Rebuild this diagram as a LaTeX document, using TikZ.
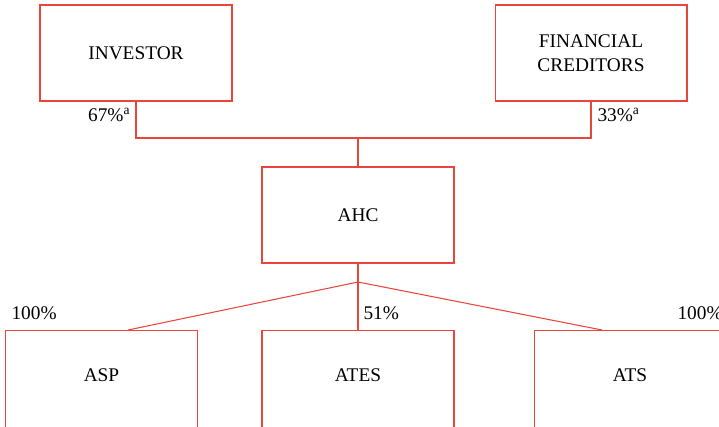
\documentclass[tikz,border=0pt]{standalone}
\usepackage{fontspec}
\setmainfont{Liberation Serif}
\definecolor{orgred}{HTML}{E8453C}

\begin{document}
\begin{tikzpicture}[x=0.02cm, y=-0.02cm, line width=0.6pt,
  entity/.style={draw=orgred, minimum width=3.84cm, minimum height=1.92cm,
    inner sep=0pt, align=center, font=\fontsize{11}{13.5}\selectfont},
  lowbox/.style={entity, anchor=north, text height=1.02cm, text depth=1.38cm},
  share/.style={font=\fontsize{11}{13.5}\selectfont, inner sep=0pt},
  link/.style={draw=orgred}]
  \useasboundingbox (0,0) rectangle (719,426);
  \clip (0,0) rectangle (719,426);
  % owners
  \node[entity] (inv) at (136,53) {INVESTOR};
  \node[entity] (fc) at (591,53) {FINANCIAL\\CREDITORS};
  % holding company
  \node[entity] (ahc) at (358,215) {AHC};
  % subsidiaries
  \node[lowbox] (asp) at (101.5,330) {ASP};
  \node[lowbox] (ates) at (358,330) {ATES};
  \node[lowbox] (ats) at (630,330) {ATS};
  % ownership lines
  \coordinate (top) at (358,138);
  \coordinate (split) at (358,282);
  \coordinate (aspin) at (128,330);
  \coordinate (atsin) at (602,330);
  \draw[link] (inv.south) |- (top) -| (fc.south);
  \draw[link] (top) -- (ahc.north);
  \draw[link] (ahc.south) -- (split);
  \draw[link] (split) -- (aspin);
  \draw[link] (split) -- (ates.north);
  \draw[link] (split) -- (atsin);
  % percentages
  \node[share, anchor=east] (pinv) at (131,115) {67\%\textsuperscript{a}};
  \node[share, anchor=west] (pfc) at (597,115) {33\%\textsuperscript{a}};
  \node[share, anchor=west] (pasp) at (11,313) {100\%};
  \node[share, anchor=west] (pates) at (363,313) {51\%};
  \node[share, anchor=west] (pats) at (677,313) {100\%};
\end{tikzpicture}
\end{document}
